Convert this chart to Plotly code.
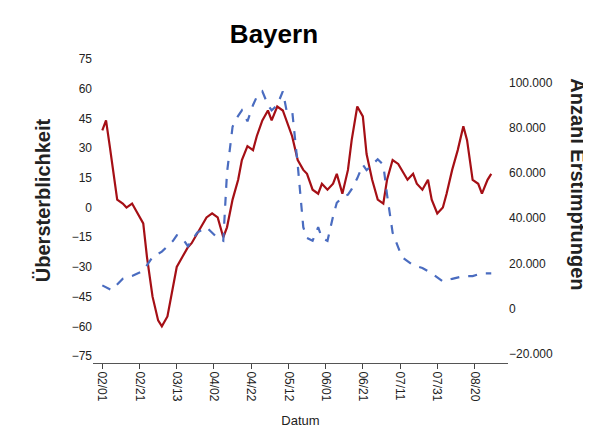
import plotly.graph_objects as go
import pandas as pd

start = pd.Timestamp("2021-02-01")
red_days = [0,2,4,5,8,11,13,16,19,22,24,27,30,32,35,38,40,43,46,48,51,54,56,59,62,65,67,70,73,75,78,81,83,86,89,91,94,97,99,102,105,108,110,113,116,118,121,124,126,129,132,134,137,140,142,145,148,151,153,156,159,161,164,167,169,172,175,177,180,183,185,188,191,194,196,199,202,204,207,209]
red_vals = [39,44,31,24,4,2,0,2,-3,-8,-25,-45,-57,-60,-55,-40,-30,-25,-20,-18,-13,-8,-5,-3,-5,-15,-10,4,14,24,31,29,36,44,49,44,51,49,44,36,24,19,17,9,7,12,9,12,17,7,19,34,51,46,27,14,4,2,14,24,22,19,14,17,12,9,14,4,-3,0,7,19,29,41,34,14,12,7,14,17]
blue_days = [0,5,11,16,22,27,32,38,40,43,46,51,56,62,65,67,70,73,75,78,81,83,86,89,91,94,97,99,102,105,108,110,113,116,118,121,124,126,129,132,134,137,140,142,145,148,151,153,156,159,161,167,172,177,183,188,194,199,204,209]
blue_vals = [10300,8200,13200,14400,16800,22800,25200,30000,32400,31200,27600,33600,36000,31200,30000,60000,80400,85200,87600,82800,90000,93600,96000,90000,87600,90000,96000,87600,87600,63600,36000,31200,30000,36000,31200,30000,40800,46800,49200,50400,52800,57600,63600,61200,63600,66000,63600,50400,33600,27600,22800,19200,18000,15600,12000,13200,14400,14400,15600,15600]
tick_dates = [start + pd.Timedelta(days=20*i) for i in range(11)]

red_x = [start + pd.Timedelta(days=d) for d in red_days]
blue_x = [start + pd.Timedelta(days=d) for d in blue_days]

fig = go.Figure()
fig.add_trace(go.Scatter(x=red_x, y=red_vals, mode="lines", line=dict(color="#a50f15", width=2.2), yaxis="y"))
fig.add_trace(go.Scatter(x=blue_x, y=blue_vals, mode="lines", line=dict(color="#4a6cc0", width=2.2, dash="dash"), yaxis="y2"))

fig.update_layout(
    width=591, height=430, showlegend=False, separators=",.",
    plot_bgcolor="white", paper_bgcolor="white",
    margin=dict(l=85, r=91, t=30, b=65),
    font=dict(family="Liberation Sans", color="#222"),
    title=dict(text="<b>Bayern</b>", x=0.45, y=0.96, font=dict(size=26, color="black")),
    xaxis=dict(type="date", tickvals=tick_dates, tickformat="%m/%d", tickangle=90,
               showgrid=False, showline=True, linecolor="#555", ticks="outside",
               range=[start - pd.Timedelta(days=5), start + pd.Timedelta(days=218)],
               title=dict(text="Datum", font=dict(size=13)), tickfont=dict(size=12)),
    yaxis=dict(range=[-78.5, 85.6], tickvals=list(range(-75, 76, 15)), showgrid=False, zeroline=False,
               showline=False, title=dict(text="<b>Übersterblichkeit</b>", font=dict(size=20)), tickfont=dict(size=12)),
    yaxis2=dict(overlaying="y", side="right", range=[-24000, 119600], tickvals=list(range(-20000, 100001, 20000)),
                tickformat=",d", showgrid=False, zeroline=False, showline=False, tickfont=dict(size=12)),
    annotations=[dict(text="<b>Anzahl Erstimpfungen</b>", textangle=90, xref="paper", yref="paper",
                      x=1.2, y=0.55, showarrow=False, font=dict(size=20, color="#222"))],
)
fig.write_html("out.html")
